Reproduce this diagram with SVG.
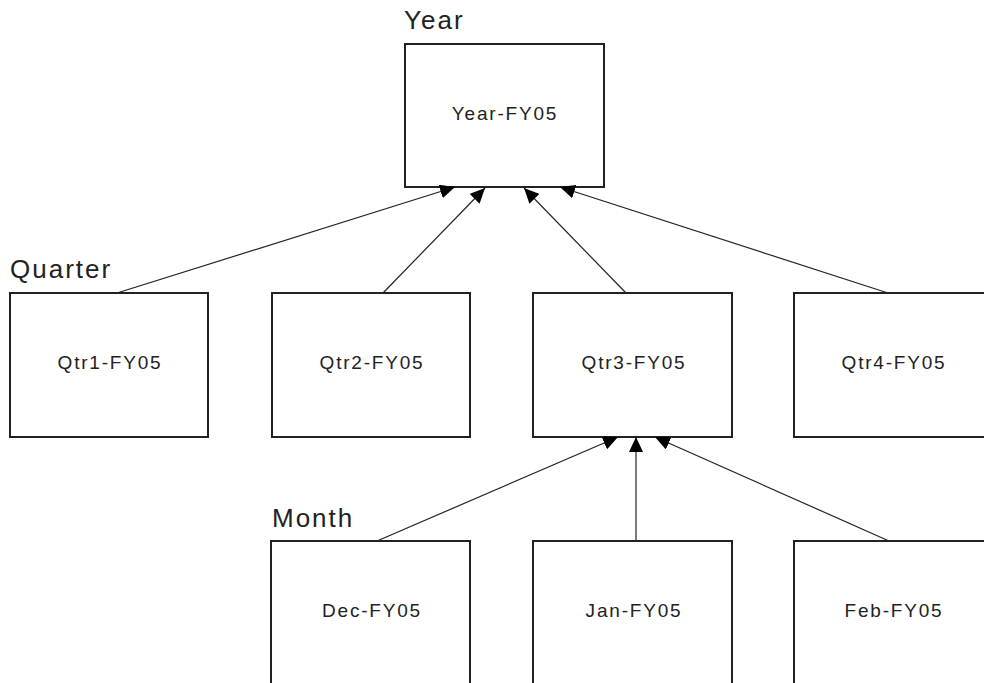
<svg xmlns="http://www.w3.org/2000/svg" width="984" height="683" viewBox="0 0 984 683">
<style>
.box{fill:#fff;stroke:#222;stroke-width:2}
.lbl{font-family:"Liberation Sans",Arial,sans-serif;font-size:26px;letter-spacing:2px;fill:#222}
.txt{font-family:"Liberation Sans",Arial,sans-serif;font-size:19px;letter-spacing:1.8px;fill:#222;text-anchor:middle}
.con{stroke:#222;stroke-width:1.2;fill:none;marker-end:url(#ah)}
</style>
<defs>
<marker id="ah" markerUnits="userSpaceOnUse" markerWidth="16" markerHeight="14" refX="15" refY="7" orient="auto">
<path d="M0,0 L15,7 L0,14 Z" fill="#000"/>
</marker>
</defs>
<rect width="984" height="683" fill="#fff"/>
<text class="lbl" x="404" y="29">Year</text>
<text class="lbl" x="10" y="278">Quarter</text>
<text class="lbl" x="272" y="527">Month</text>
<g id="year"><rect class="box" x="405" y="44" width="199" height="143"/><text class="txt" x="505" y="120">Year-FY05</text></g>
<g id="qtr1"><rect class="box" x="10" y="293" width="198" height="144"/><text class="txt" x="110" y="369">Qtr1-FY05</text></g>
<g id="qtr2"><rect class="box" x="272" y="293" width="198" height="144"/><text class="txt" x="372" y="369">Qtr2-FY05</text></g>
<g id="qtr3"><rect class="box" x="533" y="293" width="199" height="144"/><text class="txt" x="634" y="369">Qtr3-FY05</text></g>
<g id="qtr4"><rect class="box" x="794" y="293" width="220" height="144"/><text class="txt" x="894" y="369">Qtr4-FY05</text></g>
<g id="dec"><rect class="box" x="271" y="541" width="199" height="160"/><text class="txt" x="372" y="617">Dec-FY05</text></g>
<g id="jan"><rect class="box" x="533" y="541" width="199" height="160"/><text class="txt" x="634" y="617">Jan-FY05</text></g>
<g id="feb"><rect class="box" x="794" y="541" width="220" height="160"/><text class="txt" x="894" y="617">Feb-FY05</text></g>
<g id="connectors">
<line class="con" x1="117" y1="293" x2="455" y2="187"/>
<line class="con" x1="383" y1="293" x2="485" y2="188"/>
<line class="con" x1="626" y1="293" x2="524" y2="188"/>
<line class="con" x1="888" y1="293" x2="560" y2="187"/>
<line class="con" x1="377" y1="541" x2="618" y2="437"/>
<line class="con" x1="636" y1="541" x2="636" y2="437"/>
<line class="con" x1="889" y1="541" x2="655" y2="437"/>
</g>
</svg>
